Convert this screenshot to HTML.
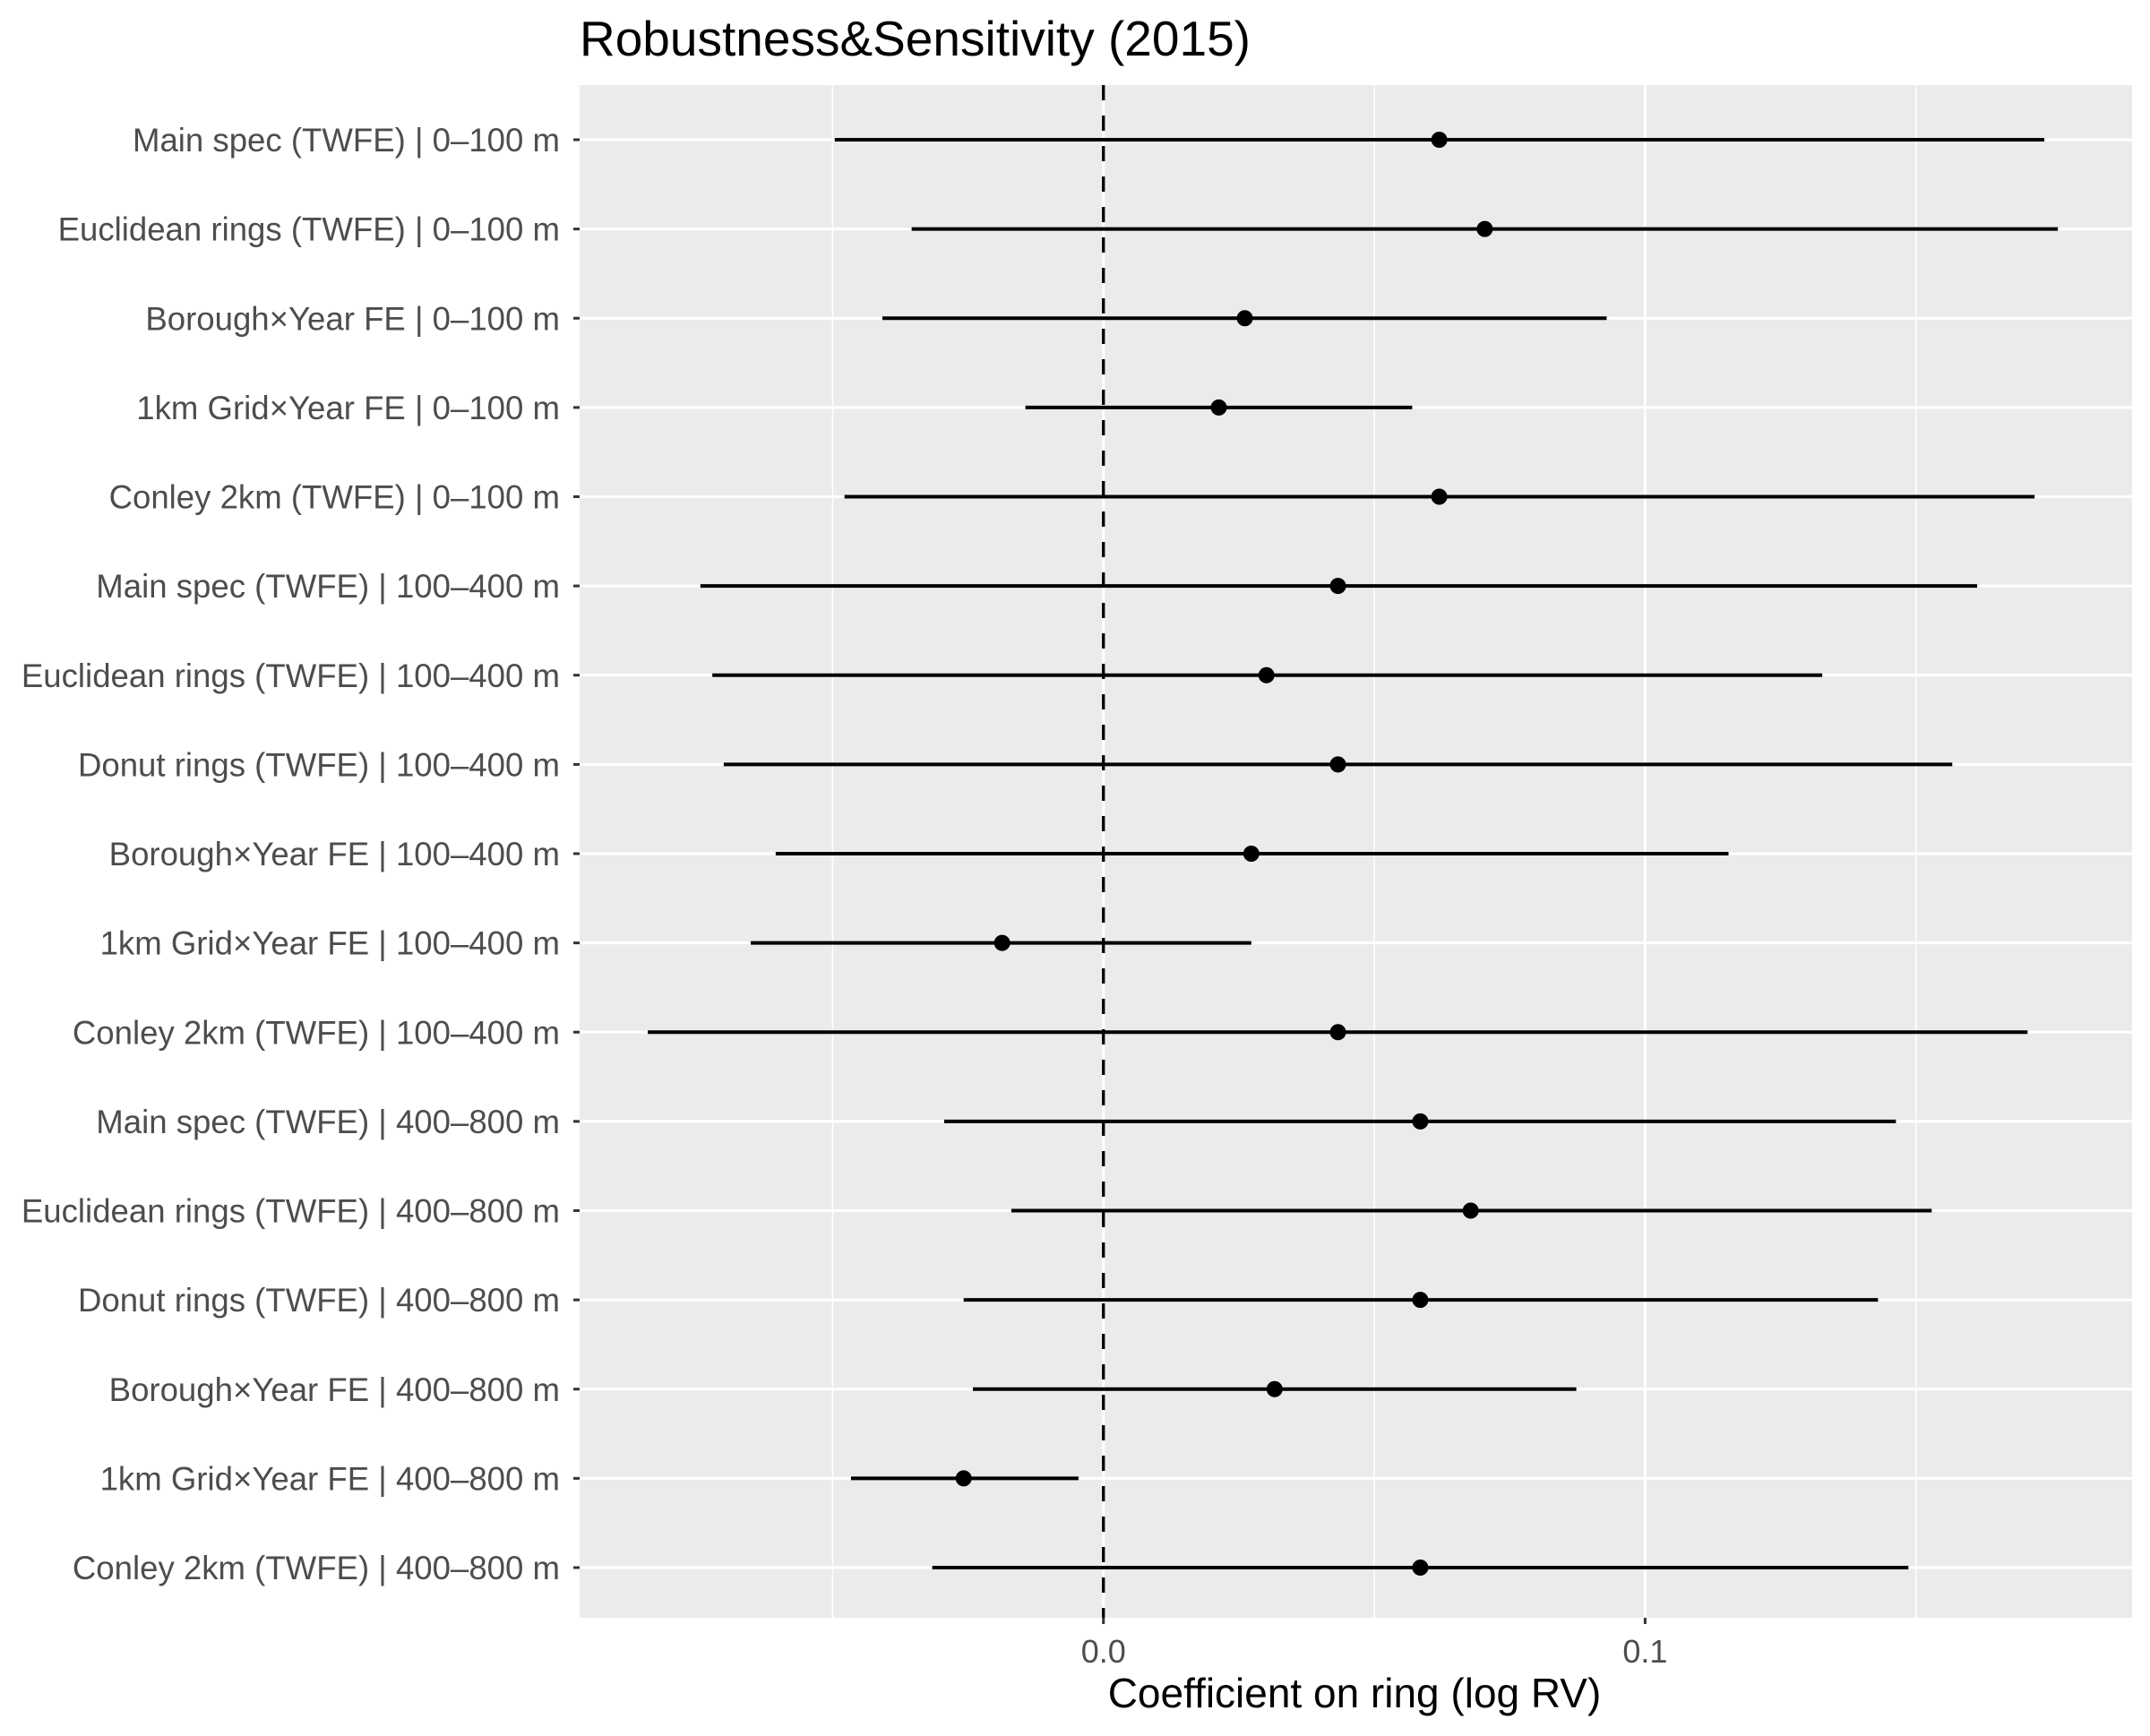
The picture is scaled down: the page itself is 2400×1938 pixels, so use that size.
<!DOCTYPE html>
<html><head><meta charset="utf-8"><style>
html,body{margin:0;padding:0;background:#fff;}
svg{display:block;font-family:"Liberation Sans",Arial,sans-serif;}
</style></head><body>
<svg id="chart" width="2400" height="1938" viewBox="0 0 2400 1938" xmlns="http://www.w3.org/2000/svg">
<rect x="0" y="0" width="2400" height="1938" fill="#fff"/>
<text x="647" y="62" font-size="55" fill="#000">Robustness&amp;Sensitivity (2015)</text>
<rect x="647" y="95" width="1733" height="1711" fill="#ebebeb"/>
<g id="grid"></g><g id="marks"></g><g id="axes"></g>
<text x="1512" y="1906" font-size="46" fill="#000" text-anchor="middle">Coefficient on ring (log RV)</text>
</svg>
<script>
const labels = ["Main spec (TWFE) | 0–100 m","Euclidean rings (TWFE) | 0–100 m","Borough×Year FE | 0–100 m","1km Grid×Year FE | 0–100 m","Conley 2km (TWFE) | 0–100 m","Main spec (TWFE) | 100–400 m","Euclidean rings (TWFE) | 100–400 m","Donut rings (TWFE) | 100–400 m","Borough×Year FE | 100–400 m","1km Grid×Year FE | 100–400 m","Conley 2km (TWFE) | 100–400 m","Main spec (TWFE) | 400–800 m","Euclidean rings (TWFE) | 400–800 m","Donut rings (TWFE) | 400–800 m","Borough×Year FE | 400–800 m","1km Grid×Year FE | 400–800 m","Conley 2km (TWFE) | 400–800 m"];
const estimates = [0.0620,0.0704,0.0261,0.0213,0.0620,0.0433,0.0301,0.0433,0.0273,-0.0187,0.0433,0.0585,0.0678,0.0585,0.0316,-0.0258,0.0585];
const lower = [-0.0496,-0.0354,-0.0408,-0.0144,-0.0478,-0.0744,-0.0722,-0.0701,-0.0605,-0.0651,-0.0841,-0.0294,-0.0170,-0.0258,-0.0241,-0.0466,-0.0316];
const upper = [0.1737,0.1762,0.0929,0.0570,0.1719,0.1613,0.1327,0.1567,0.1154,0.0273,0.1706,0.1463,0.1529,0.1430,0.0873,-0.0046,0.1486];
const xTicks = [0.0,0.1];
const xTickLabels = ["0.0","0.1"];
const xMinor = [-0.05,0.05,0.15];

const NS="http://www.w3.org/2000/svg";
const L=647,R=2380,T=95,B=1806;
const xMin=-0.0967,xMax=0.1899;
const xs=v=>L+(v-xMin)/(xMax-xMin)*(R-L);
const y0=156,yStep=(1750-156)/(labels.length-1);
const ys=i=>y0+i*yStep;
function mk(tag,attrs,parent){const e=document.createElementNS(NS,tag);for(const k in attrs)e.setAttribute(k,attrs[k]);parent.appendChild(e);return e;}
const grid=document.getElementById('grid'),marks=document.getElementById('marks'),axes=document.getElementById('axes');
xMinor.forEach(v=>{const e=mk('line',{x1:xs(v),x2:xs(v),y1:T,y2:B,stroke:'#fff','stroke-width':1.5},grid);

});
xTicks.forEach((v,i)=>{const e=mk('line',{x1:xs(v),x2:xs(v),y1:T,y2:B,stroke:'#fff','stroke-width':3},grid);


const t=mk('line',{x1:xs(v),x2:xs(v),y1:B,y2:B+7,stroke:'#333','stroke-width':3},axes);


const tx=mk('text',{x:xs(v),y:B+50,'font-size':36,fill:'#4d4d4d','text-anchor':'middle'},axes);tx.textContent=xTickLabels[i];

});
labels.forEach((lab,i)=>{const y=ys(i);
const g=mk('line',{x1:L,x2:R,y1:y,y2:y,stroke:'#fff','stroke-width':3},grid);


const t=mk('line',{x1:L-7,x2:L,y1:y,y2:y,stroke:'#333','stroke-width':3},axes);


const tx=mk('text',{x:L-22,y:y+13,'font-size':36.6,fill:'#4d4d4d','text-anchor':'end'},axes);tx.textContent=lab;

});
const z=mk('line',{x1:xs(0),x2:xs(0),y1:T,y2:B,stroke:'#000','stroke-width':3.3,'stroke-dasharray':'17,17'},grid);


labels.forEach((lab,i)=>{const y=ys(i);
const ci=mk('line',{x1:xs(lower[i]),x2:xs(upper[i]),y1:y,y2:y,stroke:'#000','stroke-width':4},marks);


const p=mk('circle',{cx:xs(estimates[i]),cy:y,r:9,fill:'#000'},marks);

});
</script>
</body></html>
